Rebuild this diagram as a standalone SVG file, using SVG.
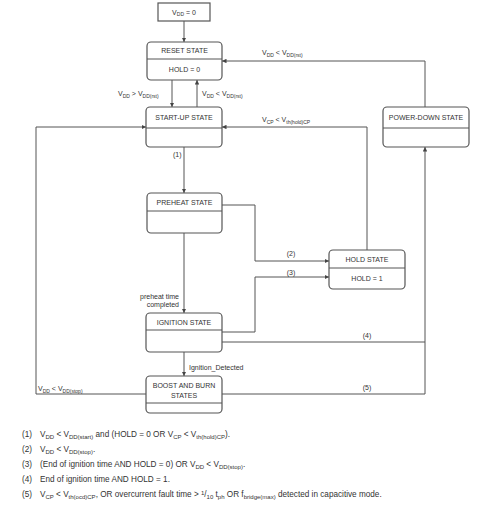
<svg xmlns="http://www.w3.org/2000/svg" width="500" height="508" viewBox="0 0 500 508">
<defs>
<marker id="ar" viewBox="0 0 6 6" refX="6" refY="3" markerWidth="4.5" markerHeight="4.5" orient="auto" markerUnits="userSpaceOnUse"><path d="M0,0 L6,3 L0,6 z" fill="#444"/></marker>
<style>
.box{fill:#fff;stroke:#555;stroke-width:1.2}
.dv{stroke:#555;stroke-width:1}
.t{font-family:"Liberation Sans",Arial,sans-serif;font-size:7px;fill:#333}
.f{font-family:"Liberation Sans",Arial,sans-serif;font-size:8.2px;fill:#333}
.c{text-anchor:middle}
.e{text-anchor:end}
.s{font-size:5px}
.fs{font-size:6px}
.conn path{fill:none;stroke:#555;stroke-width:1}
</style>
</defs>
<rect width="500" height="508" fill="#fff"/>
<g class="conn">
<path d="M184,21 V42" marker-end="url(#ar)"/>
<path d="M172,80 V107" marker-end="url(#ar)"/>
<path d="M197,107 V80" marker-end="url(#ar)"/>
<path d="M425,107 V61 H222" marker-end="url(#ar)"/>
<path d="M367,250 V127 H222" marker-end="url(#ar)"/>
<path d="M184,147 V193" marker-end="url(#ar)"/>
<path d="M222,205 H255 V261 H329" marker-end="url(#ar)"/>
<path d="M222,332 H255 V277 H329" marker-end="url(#ar)"/>
<path d="M184,233 V313" marker-end="url(#ar)"/>
<path d="M222,342 H425 V147" marker-end="url(#ar)"/>
<path d="M222,394 H425 V342"/>
<path d="M184,352 V376" marker-end="url(#ar)"/>
<path d="M146,394 H36 V127 H146" marker-end="url(#ar)"/>
</g>
<g id="vdd0">
<rect x="158" y="3" width="52" height="18" fill="#fff" stroke="#555" stroke-width="1.2"/>
<text class="t c" x="184" y="14.5">V<tspan class="s" dy="1.5">DD</tspan><tspan dy="-1.5"> = 0</tspan></text>
</g>
<g id="reset">
<rect class="box" x="147" y="42" width="75" height="38" rx="4"/>
<line class="dv" x1="147" y1="59" x2="222" y2="59"/>
<text class="t c" x="184.5" y="53">RESET STATE</text>
<text class="t c" x="184.5" y="72">HOLD = 0</text>
</g>
<g id="startup">
<rect class="box" x="146" y="107" width="76" height="40" rx="4"/>
<line class="dv" x1="146" y1="128" x2="222" y2="128"/>
<text class="t c" x="184" y="120">START-UP STATE</text>
</g>
<g id="powerdown">
<rect class="box" x="383" y="107" width="86" height="40" rx="4"/>
<line class="dv" x1="383" y1="128" x2="469" y2="128"/>
<text class="t c" x="426" y="120">POWER-DOWN STATE</text>
</g>
<g id="preheat">
<rect class="box" x="147" y="193" width="75" height="40" rx="4"/>
<line class="dv" x1="147" y1="211" x2="222" y2="211"/>
<text class="t c" x="184.5" y="205">PREHEAT STATE</text>
</g>
<g id="hold">
<rect class="box" x="329" y="250" width="76" height="39" rx="4"/>
<line class="dv" x1="329" y1="268" x2="405" y2="268"/>
<text class="t c" x="367" y="262">HOLD STATE</text>
<text class="t c" x="367" y="281">HOLD = 1</text>
</g>
<g id="ignition">
<rect class="box" x="146" y="313" width="76" height="39" rx="4"/>
<line class="dv" x1="146" y1="330" x2="222" y2="330"/>
<text class="t c" x="184" y="325">IGNITION STATE</text>
</g>
<g id="boost">
<rect class="box" x="146" y="376" width="76" height="37" rx="4"/>
<line class="dv" x1="146" y1="403" x2="222" y2="403"/>
<text class="t c" x="184" y="387.5">BOOST AND BURN</text>
<text class="t c" x="184" y="397.5">STATES</text>
</g>
<g id="labels">
<text class="t" x="118" y="96">V<tspan class="s" dy="1.5">DD</tspan><tspan dy="-1.5"> &gt; V</tspan><tspan class="s" dy="1.5">DD(rst)</tspan></text>
<text class="t" x="202" y="96">V<tspan class="s" dy="1.5">DD</tspan><tspan dy="-1.5"> &lt; V</tspan><tspan class="s" dy="1.5">DD(rst)</tspan></text>
<text class="t" x="262" y="55">V<tspan class="s" dy="1.5">DD</tspan><tspan dy="-1.5"> &lt; V</tspan><tspan class="s" dy="1.5">DD(rst)</tspan></text>
<text class="t" x="262" y="122">V<tspan class="s" dy="1.5">CP</tspan><tspan dy="-1.5"> &lt; V</tspan><tspan class="s" dy="1.5">th(hold)CP</tspan></text>
<text class="t" x="173" y="157">(1)</text>
<text class="t c" x="291" y="256">(2)</text>
<text class="t c" x="291" y="275">(3)</text>
<text class="t e" x="179" y="299">preheat time</text>
<text class="t e" x="179" y="307">completed</text>
<text class="t c" x="367" y="338">(4)</text>
<text class="t" x="189" y="370">Ignition_Detected</text>
<text class="t c" x="367" y="390">(5)</text>
<text class="t" x="38" y="391">V<tspan class="s" dy="1.5">DD</tspan><tspan dy="-1.5"> &lt; V</tspan><tspan class="s" dy="1.5">DD(stop)</tspan></text>
</g>
<g id="notes">
<text class="f" x="22" y="437">(1)</text>
<text class="f" x="40" y="437">V<tspan class="fs" dy="1.5">DD</tspan><tspan dy="-1.5"> &lt; V</tspan><tspan class="fs" dy="1.5">DD(start)</tspan><tspan dy="-1.5"> and (HOLD = 0 OR V</tspan><tspan class="fs" dy="1.5">CP</tspan><tspan dy="-1.5"> &lt; V</tspan><tspan class="fs" dy="1.5">th(hold)CP</tspan><tspan dy="-1.5">).</tspan></text>
<text class="f" x="22" y="452">(2)</text>
<text class="f" x="40" y="452">V<tspan class="fs" dy="1.5">DD</tspan><tspan dy="-1.5"> &lt; V</tspan><tspan class="fs" dy="1.5">DD(stop)</tspan><tspan dy="-1.5">.</tspan></text>
<text class="f" x="22" y="467">(3)</text>
<text class="f" x="40" y="467">(End of ignition time AND HOLD = 0) OR V<tspan class="fs" dy="1.5">DD</tspan><tspan dy="-1.5"> &lt; V</tspan><tspan class="fs" dy="1.5">DD(stop)</tspan><tspan dy="-1.5">.</tspan></text>
<text class="f" x="22" y="482">(4)</text>
<text class="f" x="40" y="482">End of ignition time AND HOLD = 1.</text>
<text class="f" x="22" y="497">(5)</text>
<text class="f" x="40" y="497">V<tspan class="fs" dy="1.5">CP</tspan><tspan dy="-1.5"> &lt; V</tspan><tspan class="fs" dy="1.5">th(ocd)CP</tspan><tspan dy="-1.5">, OR overcurrent fault time &gt; </tspan><tspan class="fs" dy="-2">1</tspan><tspan dy="2">/</tspan><tspan class="fs" dy="1.5">10</tspan><tspan dy="-1.5"> t</tspan><tspan class="fs" dy="1.5">ph</tspan><tspan dy="-1.5"> OR f</tspan><tspan class="fs" dy="1.5">bridge(max)</tspan><tspan dy="-1.5"> detected in capacitive mode.</tspan></text>
</g>
</svg>
